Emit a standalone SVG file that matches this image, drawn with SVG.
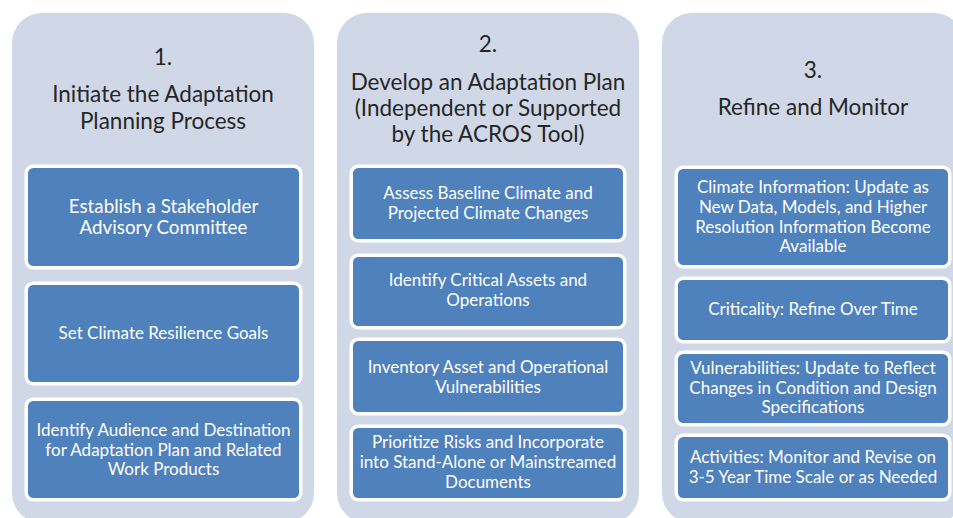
<svg xmlns="http://www.w3.org/2000/svg" width="953" height="518" viewBox="0 0 953 518">
  <style>
    .panel { fill: #D0D8E8; }
    .box { fill: #4F81BD; stroke: #FFFFFF; stroke-width: 3.5; }
    .title { font-family: Lato, "Liberation Sans", sans-serif; font-size: 22.5px; fill: #262626; text-anchor: middle; }
    .label { font-family: Lato, "Liberation Sans", sans-serif; font-size: 17px; fill: #FFFFFF; text-anchor: middle; }
    .label-lg { font-size: 18.8px; }
  </style>

  <!-- Stage 1 -->
  <g id="stage1">
    <rect class="panel" x="12" y="13" width="302" height="510" rx="30"/>
    <text class="title" x="163" y="65">1.</text>
    <text class="title" x="163" y="102">Initiate the Adaptation</text>
    <text class="title" x="163" y="129">Planning Process</text>
  </g>
  <g id="s1-stakeholder">
    <rect class="box" x="26.25" y="166.25" width="274.5" height="101.5" rx="7"/>
    <text class="label label-lg" x="163.5" y="213">Establish a Stakeholder</text>
    <text class="label label-lg" x="163.5" y="234">Advisory Committee</text>
  </g>
  <g id="s1-goals">
    <rect class="box" x="26.25" y="283.25" width="274.5" height="100.5" rx="7"/>
    <text class="label" x="163.5" y="339">Set Climate Resilience Goals</text>
  </g>
  <g id="s1-audience">
    <rect class="box" x="26.25" y="399.25" width="274.5" height="100.5" rx="7"/>
    <text class="label" x="163.5" y="436">Identify Audience and Destination</text>
    <text class="label" x="163.5" y="456">for Adaptation Plan and Related</text>
    <text class="label" x="163.5" y="475">Work Products</text>
  </g>

  <!-- Stage 2 -->
  <g id="stage2">
    <rect class="panel" x="337" y="13" width="302" height="510" rx="30"/>
    <text class="title" x="488" y="52">2.</text>
    <text class="title" x="488" y="90">Develop an Adaptation Plan</text>
    <text class="title" x="488" y="116">(Independent or Supported</text>
    <text class="title" x="488" y="142">by the ACROS Tool)</text>
  </g>
  <g id="s2-baseline">
    <rect class="box" x="351.25" y="166.25" width="273.5" height="74.5" rx="7"/>
    <text class="label" x="488" y="199">Assess Baseline Climate and</text>
    <text class="label" x="488" y="219">Projected Climate Changes</text>
  </g>
  <g id="s2-critical">
    <rect class="box" x="351.25" y="255.25" width="273.5" height="72.5" rx="7"/>
    <text class="label" x="488" y="286">Identify Critical Assets and</text>
    <text class="label" x="488" y="306">Operations</text>
  </g>
  <g id="s2-inventory">
    <rect class="box" x="351.25" y="339.25" width="273.5" height="74.5" rx="7"/>
    <text class="label" x="488" y="373">Inventory Asset and Operational</text>
    <text class="label" x="488" y="393">Vulnerabilities</text>
  </g>
  <g id="s2-prioritize">
    <rect class="box" x="351.25" y="426.25" width="273.5" height="73.5" rx="7"/>
    <text class="label" x="488" y="448">Prioritize Risks and Incorporate</text>
    <text class="label" x="488" y="468">into Stand-Alone or Mainstreamed</text>
    <text class="label" x="488" y="488">Documents</text>
  </g>

  <!-- Stage 3 -->
  <g id="stage3">
    <rect class="panel" x="662" y="13" width="302" height="510" rx="30"/>
    <text class="title" x="813" y="78">3.</text>
    <text class="title" x="813" y="115">Refine and Monitor</text>
  </g>
  <g id="s3-climate">
    <rect class="box" x="676.25" y="167.25" width="273.5" height="99.5" rx="7"/>
    <text class="label" x="813" y="193">Climate Information: Update as</text>
    <text class="label" x="813" y="213">New Data, Models, and Higher</text>
    <text class="label" x="813" y="233">Resolution Information Become</text>
    <text class="label" x="813" y="252">Available</text>
  </g>
  <g id="s3-criticality">
    <rect class="box" x="676.25" y="278.25" width="273.5" height="63.5" rx="7"/>
    <text class="label" x="813" y="315">Criticality: Refine Over Time</text>
  </g>
  <g id="s3-vulnerabilities">
    <rect class="box" x="676.25" y="352.25" width="273.5" height="72.5" rx="7"/>
    <text class="label" x="813" y="374">Vulnerabilities: Update to Reflect</text>
    <text class="label" x="813" y="394">Changes in Condition and Design</text>
    <text class="label" x="813" y="413">Specifications</text>
  </g>
  <g id="s3-activities">
    <rect class="box" x="676.25" y="435.25" width="273.5" height="64.5" rx="7"/>
    <text class="label" x="813" y="463">Activities: Monitor and Revise on</text>
    <text class="label" x="813" y="483">3-5 Year Time Scale or as Needed</text>
  </g>
</svg>
